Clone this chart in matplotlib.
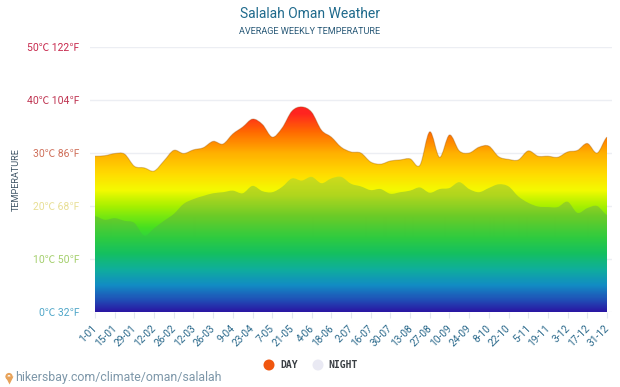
import numpy as np
import matplotlib
matplotlib.use("Agg")
import matplotlib.pyplot as plt
from matplotlib.colors import LinearSegmentedColormap
from matplotlib.path import Path
from matplotlib.patches import PathPatch, Circle
from matplotlib.transforms import ScaledTranslation

plt.rcParams['font.family'] = ['Roboto', 'Noto Sans CJK SC', 'DejaVu Sans']

week_labels = ['1-01', '15-01', '29-01', '12-02', '26-02', '12-03', '26-03', '9-04', '23-04',
               '7-05', '21-05', '4-06', '18-06', '2-07', '16-07', '30-07', '13-08', '27-08',
               '10-09', '24-09', '8-10', '22-10', '5-11', '19-11', '3-12', '17-12', '31-12']

day_temp = [29.4, 29.5, 29.9, 29.8, 27.5, 27.2, 26.6, 28.5, 30.5, 29.9, 30.6, 31.0, 32.2, 31.7,
            33.6, 34.9, 36.4, 35.4, 33.0, 34.7, 37.9, 38.7, 37.7, 34.3, 33.0, 31.1, 30.2, 30.0,
            28.3, 27.9, 28.5, 28.7, 28.9, 27.7, 34.0, 29.2, 33.4, 30.4, 30.0, 31.1, 31.3, 29.3,
            28.8, 28.7, 30.4, 29.4, 29.4, 29.2, 30.2, 30.5, 31.8, 30.0, 33.0]

night_temp = [18.1, 17.4, 17.7, 17.2, 16.8, 14.4, 15.8, 17.2, 18.5, 20.4, 21.3, 21.9, 22.4, 22.6,
              22.9, 22.4, 23.8, 22.8, 22.6, 23.6, 25.2, 24.8, 25.5, 24.3, 25.2, 25.5, 24.2, 23.7,
              23.0, 23.2, 22.3, 22.6, 22.9, 23.5, 22.5, 23.2, 23.4, 24.5, 23.2, 22.6, 23.4, 24.1,
              23.7, 21.8, 20.6, 19.9, 19.8, 19.8, 20.8, 18.7, 19.6, 20.0, 18.3]

y_ticks = [0, 10, 20, 30, 40, 50]
y_labels = ['0℃ 32℉', '10℃ 50℉', '20℃ 68℉', '30℃ 86℉', '40℃ 104℉', '50℃ 122℉']
y_colors = ['#4fa6c8', '#a4cf6c', '#e8df95', '#cf6f5a', '#bf3350', '#c7284c']

# temperature -> colour stops
day_stops = [(0, '#2a17a3'), (2.5, '#1f55b8'), (5, '#128cc4'), (8, '#0fae9c'), (12, '#10c860'),
             (16, '#48e020'), (20, '#a8f000'), (23, '#f4fa00'), (26, '#ffdc00'), (30, '#ffb000'),
             (34, '#ff6a00'), (37.5, '#ff2420'), (50, '#ff2420')]
night_stops = [(0, '#2a17a3'), (2.5, '#1f55b8'), (5, '#128cc4'), (8, '#0fae9c'), (11, '#14c060'),
               (14, '#2fcb40'), (18, '#6acb28'), (22, '#b0d61e'), (26, '#d2dc1c'), (50, '#d2dc1c')]


def make_cmap(stops):
    return LinearSegmentedColormap.from_list('temp', [(v / 50, c) for v, c in stops], N=512)


def area_path(values):
    # smooth curve through the values, closed down to zero
    v = np.array(values)
    n = len(v)
    verts = [(0, 0), (0, v[0])]
    codes = [Path.MOVETO, Path.LINETO]
    for i in range(n - 1):
        prev = v[max(i - 1, 0)]
        nxt = v[min(i + 2, n - 1)]
        verts += [(i + 1 / 3, v[i] + (v[i + 1] - prev) / 6),
                  (i + 2 / 3, v[i + 1] - (nxt - v[i]) / 6),
                  (i + 1, v[i + 1])]
        codes += [Path.CURVE4] * 3
    verts += [(n - 1, 0), (0, 0)]
    codes += [Path.LINETO, Path.CLOSEPOLY]
    return Path(verts, codes)


fig = plt.figure(figsize=(6.2, 3.87), dpi=100)
ax = fig.add_axes([90 / 620, 1 - 312 / 387, 522 / 620, 265 / 387])
ax.set_xlim(-5 / 9.84, 52 + 5 / 9.84)
ax.set_ylim(0, 50)

ax.set_yticks(y_ticks)
ax.set_yticklabels(y_labels, fontsize=7.5)
for lab, col in zip(ax.get_yticklabels(), y_colors):
    lab.set_color(col)
ax.tick_params(axis='y', length=0, pad=7.5)
ax.set_xticks(range(0, 53, 2))
ax.set_xticklabels(week_labels, rotation=45, ha='right', rotation_mode='anchor',
                   fontsize=7.3, color='#2c6a8c')
ax.tick_params(axis='x', length=4, width=0.8, color='#e3e8ee', pad=4)
shift = ScaledTranslation(-3 / 100, 0, fig.dpi_scale_trans)
for lab in ax.get_xticklabels():
    lab.set_transform(lab.get_transform() + shift)
ax.grid(axis='y', color='#eceef3', lw=1)
ax.set_axisbelow(True)
for s in ax.spines.values():
    s.set_visible(False)

grad = np.linspace(0, 1, 530).reshape(-1, 1)
for vals, stops, z in [(day_temp, day_stops, 2), (night_temp, night_stops, 3)]:
    p = area_path(vals)
    im = ax.imshow(grad, cmap=make_cmap(stops), vmin=0, vmax=1, origin='lower', aspect='auto',
                   extent=(ax.get_xlim()[0], ax.get_xlim()[1], 0, 50), zorder=z)
    patch = PathPatch(p, transform=ax.transData, fc='none', ec='none')
    ax.add_patch(patch)
    im.set_clip_path(patch)

# thin darker edge on the top of the day area
n_day = area_path(day_temp)
top = Path(n_day.vertices[1:-2], [Path.MOVETO] + list(n_day.codes[2:-2]))
ax.add_patch(PathPatch(top, fc='none', ec='#8a4a00', alpha=0.3, lw=0.8, zorder=4))
ax.set_xlim(-5 / 9.84, 52 + 5 / 9.84)
ax.set_ylim(0, 50)

ax.set_ylabel('TEMPERATURE', fontsize=6.6, color='#3f5566', va='center')
ax.yaxis.set_label_coords(16 / 620, 1 - 180 / 387, transform=fig.transFigure)

fig.text(309.5 / 620, 1 - 14 / 387, 'Salalah Oman Weather', ha='center', va='center',
         fontsize=10, color='#1f6a8c')
fig.text(310 / 620, 1 - 32 / 387, 'AVERAGE WEEKLY TEMPERATURE', ha='center', va='center',
         fontsize=6.6, color='#2a5a78')

# legend + footer in pixel coordinates
over = fig.add_axes([0, 0, 1, 1], facecolor='none')
over.set_xlim(0, 620)
over.set_ylim(387, 0)
over.axis('off')
over.add_patch(Circle((269, 365), 5.5, fc='#f0560f', ec='none'))
over.add_patch(Circle((318, 365), 5.5, fc='#e9e9f3', ec='none'))
over.text(280, 365.5, 'DAY', family='DejaVu Sans Mono', fontsize=7, fontweight='bold',
          color='#3a3f44', va='center')
over.text(328, 365.5, 'NIGHT', family='DejaVu Sans Mono', fontsize=7, fontweight='bold',
          color='#3a3f44', va='center')
over.plot([9], [379.5], marker='v', ms=6, color='#e8a35a', mec='none')
over.add_patch(Circle((9, 376.5), 3.6, fc='#e8a35a', ec='none'))
over.add_patch(Circle((9, 376.5), 1.5, fc='white', ec='none'))
over.text(15.5, 378, 'hikersbay.com/climate/oman/salalah', fontsize=8.9, color='#7d97a9',
          va='center')

fig.savefig('out.png', dpi=100)
